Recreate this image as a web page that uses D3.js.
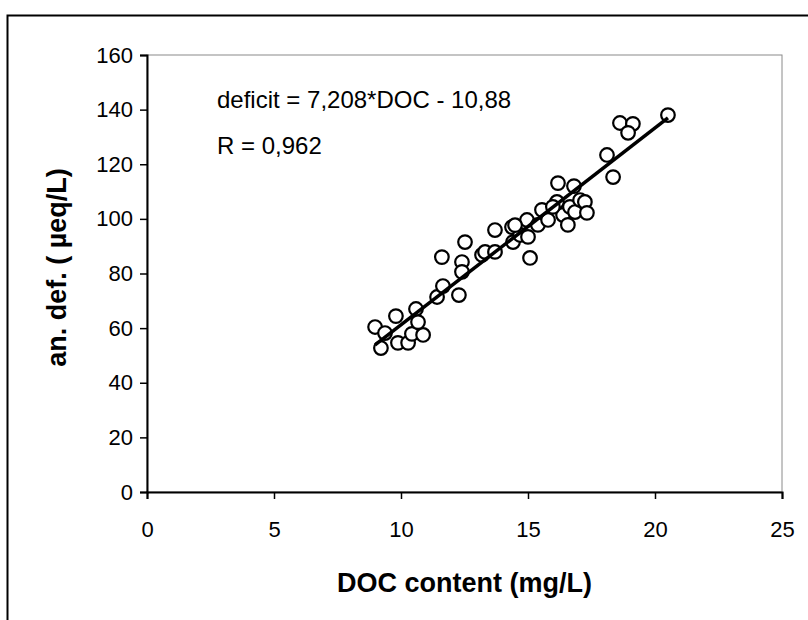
<!DOCTYPE html>
<html><head>
<meta charset="UTF-8"><title>an. def. vs DOC content</title>
<style>
  html, body { margin:0; padding:0; background:#fff; }
  svg { display:block; }
  .tick text { font-family: 'Liberation Sans', Arial, sans-serif; font-size:22px; fill:#000; }
  .axis-title { font-family: 'Liberation Sans', Arial, sans-serif; font-weight:bold; font-size:27px; fill:#000; }
  .note { font-family: 'Liberation Sans', Arial, sans-serif; font-size:24px; fill:#000; }
</style>
</head><body>
<svg id="chart" width="808" height="620"></svg>
<script src="https://cdn.jsdelivr.net/npm/d3@7/dist/d3.min.js"></script>
<script>
// DOC content (mg/L)
const docContent = [
  8.98, 9.37, 9.21, 9.80, 9.88, 10.28, 10.43, 10.87, 10.59, 10.67,
  11.42, 11.65, 12.28, 11.61, 12.52, 12.40, 12.40, 13.19, 13.31, 13.70,
  13.70, 14.37, 14.41, 14.69, 14.96, 15.00, 15.08, 15.39, 15.55, 15.79,
  16.14, 16.18, 16.38, 16.57, 16.65, 16.81, 16.85, 17.05, 17.24, 17.32,
  18.11, 18.35, 18.62, 19.13, 18.94, 20.51, 14.49, 15.98
];
// anion deficit (µeq/L), same order
const anDeficit = [
  60.4, 58.2, 52.7, 64.4, 54.6, 54.6, 57.9, 57.5, 67.0, 62.2,
  71.4, 75.4, 72.1, 86.0, 91.5, 84.2, 80.6, 86.8, 87.9, 87.9,
  95.9, 97.0, 91.5, 94.1, 99.6, 93.4, 85.7, 97.8, 103.3, 99.6,
  106.2, 113.1, 101.4, 97.8, 104.4, 112.0, 102.5, 106.9, 106.2, 102.2,
  123.4, 115.3, 135.1, 134.8, 131.5, 138.0, 97.7, 104.4
];

const xTicks = [0, 5, 10, 15, 20, 25];
const yTicks = [0, 20, 40, 60, 80, 100, 120, 140, 160];

// linear trend from the chart label
const fitSlope = 7.208;
const fitIntercept = -10.88;
const fitLabel = 'deficit = 7,208*DOC - 10,88';
const rLabel = 'R = 0,962';

const xTitle = 'DOC content (mg/L)';
const yTitle = 'an. def. ( µeq/L)';

const svg = d3.select('#chart');
const plot = { left: 147, right: 782, top: 55, bottom: 492 };

const x = d3.scaleLinear().domain([0, 25]).range([plot.left, plot.right]);
const y = d3.scaleLinear().domain([0, 160]).range([plot.bottom, plot.top]);

// chart area frame (right and bottom edges fall outside the scan)
svg.append('path')
  .attr('d', 'M7.5,620 V15.5 H808')
  .attr('fill', 'none').attr('stroke', '#000').attr('stroke-width', 2);

// plot area border (thin grey)
svg.append('rect')
  .attr('x', plot.left).attr('y', plot.top)
  .attr('width', plot.right - plot.left).attr('height', plot.bottom - plot.top)
  .attr('fill', 'none').attr('stroke', '#8a8a8a').attr('stroke-width', 1);

const xAxis = svg.append('g').attr('transform', `translate(0,${plot.bottom})`)
  .call(d3.axisBottom(x).tickValues(xTicks).tickSize(7).tickPadding(22).tickFormat(d3.format('d')));
const yAxis = svg.append('g').attr('transform', `translate(${plot.left},0)`)
  .call(d3.axisLeft(y).tickValues(yTicks).tickSize(7).tickPadding(7).tickFormat(d3.format('d')));
[xAxis, yAxis].forEach(g => {
  g.select('.domain').attr('stroke', '#000').attr('stroke-width', 2);
  g.selectAll('.tick line').attr('stroke', '#000').attr('stroke-width', 1.5);
});

// points
const pts = docContent.map((d, i) => ({ doc: d, def: anDeficit[i] }));
svg.append('g').selectAll('circle').data(pts).join('circle')
  .attr('cx', d => x(d.doc)).attr('cy', d => y(d.def)).attr('r', 6.8)
  .attr('fill', '#fff').attr('stroke', '#000').attr('stroke-width', 2.2);

// trend line over the data range
const [x0, x1] = d3.extent(docContent);
svg.append('line')
  .attr('x1', x(x0)).attr('y1', y(fitSlope * x0 + fitIntercept))
  .attr('x2', x(x1)).attr('y2', y(fitSlope * x1 + fitIntercept))
  .attr('stroke', '#000').attr('stroke-width', 3.5);

svg.append('text').attr('class', 'note').attr('x', 217).attr('y', 108).text(fitLabel);
svg.append('text').attr('class', 'note').attr('x', 217).attr('y', 154).text(rLabel);

svg.append('text').attr('class', 'axis-title')
  .attr('x', (plot.left + plot.right) / 2).attr('y', 592).attr('text-anchor', 'middle')
  .text(xTitle);
svg.append('text').attr('class', 'axis-title')
  .attr('transform', `translate(66,${(plot.top + plot.bottom) / 2 - 6}) rotate(-90)`)
  .attr('text-anchor', 'middle').attr('font-size', 28).text(yTitle);
</script>
</body></html>
